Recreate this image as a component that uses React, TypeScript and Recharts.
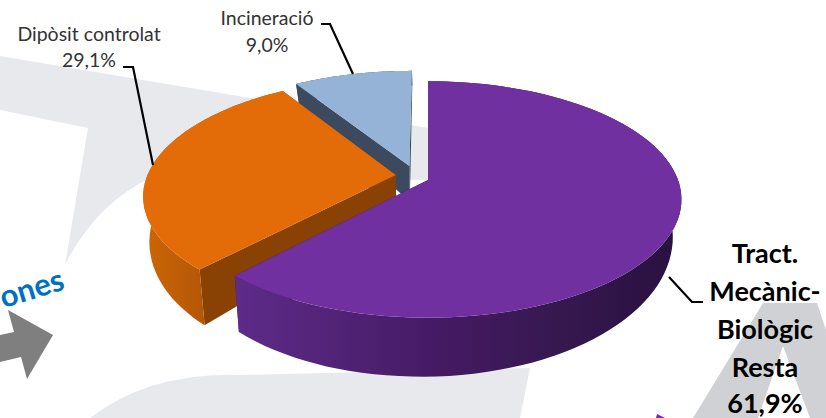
import React from "react";
import { PieChart, Pie } from "recharts";

// ---- data ----
const categories = ["Incineració", "Dipòsit controlat", "Tract. Mecànic-Biològic Resta"];
const shares = [9.0, 29.1, 61.9];
const categoryLines = [["Incineració"], ["Dipòsit controlat"], ["Tract.", "Mecànic-", "Biològic", "Resta"]];
const fragmentText = "ones";

const pieData = categories.map((name, i) => ({ name, value: shares[i] }));

// ---- styling / projection ----
const W = 826;
const H = 418;
const CX = 428;
const CY = 180;
const R = 250;
const K = 0.1646;
const Y_SCALE = 0.46;

const topColors = ["#95b3d7", "#e36c09", "#7030a0"];
const sideColors = ["#3b4a5f", "#8a4204", "#3a1a55"];
const explode: [number, number][] = [[-0.076, 0.125], [-0.13, 0.043], [0, 0]];
const wallStops: [string, string][][] = [
  [["0", "#3b4a5f"], ["1", "#3b4a5f"]],
  [["0", "#cc6706"], ["1", "#b35607"]],
  [["0", "#5d2b88"], ["0.45", "#451a64"], ["0.72", "#36184f"], ["1", "#28113f"]],
];
const wallRange: [number, number][] = [[290, 410], [145, 205], [240, 680]];

function project(cx: number, cy: number, r: number, u: number, v: number) {
  const w = 1 + K * v;
  return { x: cx + (r * u) / w, y: cy - (r * Y_SCALE * v) / w };
}
function lower(cx: number, p: { x: number; y: number }, u: number, v: number) {
  const shrink = u < 0 ? 0.978 : 0.966;
  return { x: cx + (p.x - cx) * shrink, y: p.y + 38 - 21 * v - 4 * u };
}
const toPath = (pts: { x: number; y: number }[]) =>
  "M" + pts.map((p) => `${p.x.toFixed(1)} ${p.y.toFixed(1)}`).join("L") + "Z";

function Slice3D(props: any) {
  const { cx, cy, outerRadius, startAngle, endAngle, name } = props;
  const idx = categories.indexOf(name);
  const [du, dv] = explode[idx];
  const steps = 90;
  const rim: { x: number; y: number; u: number; v: number }[] = [];
  for (let s = 0; s <= steps; s++) {
    const a = ((startAngle + ((endAngle - startAngle) * s) / steps) * Math.PI) / 180;
    const u = Math.cos(a) + du;
    const v = Math.sin(a) + dv;
    rim.push({ ...project(cx, cy, outerRadius, u, v), u, v });
  }
  const apex = project(cx, cy, outerRadius, du, dv);
  const apexLow = lower(cx, apex, du, dv);
  const rimLow = rim.map((p) => lower(cx, p, p.u, p.v));
  const gid = `wall-${idx}`;
  const [x1, x2] = wallRange[idx];
  const first = rim[0];
  const last = rim[steps];
  return (
    <g>
      <defs>
        <linearGradient id={gid} gradientUnits="userSpaceOnUse" x1={x1} x2={x2} y1={0} y2={0}>
          {wallStops[idx].map(([o, c]) => (
            <stop key={o} offset={o} stopColor={c} />
          ))}
        </linearGradient>
      </defs>
      <path d={toPath([apex, first, rimLow[0], apexLow])} fill={sideColors[idx]} />
      <path d={toPath([apex, last, rimLow[steps], apexLow])} fill={sideColors[idx]} />
      <path d={toPath([...rim, ...rimLow.slice().reverse()])} fill={`url(#${gid})`} />
      <path d={toPath([apex, ...rim])} fill={topColors[idx]} />
    </g>
  );
}

const fmt = (v: number) => v.toFixed(1).replace(".", ",") + "%";

const LIGHT_FONT = "Lato, 'Open Sans', sans-serif";
const leaders = [
  "M321 24L330 24L353 74",
  "M123 67L133 67L153 165",
  "M669 277L692 302L703 302",
];

function SliceLabel(props: any) {
  const idx = categories.indexOf(props.name);
  const lines = categoryLines[idx];
  const value = fmt(shares[idx]);
  const leader = <path d={leaders[idx]} fill="none" stroke="#000" strokeWidth={2.2} />;
  if (idx === 2) {
    const ys = [263, 301, 339, 377];
    return (
      <g>
        {leader}
        <g fontFamily={LIGHT_FONT} fontWeight={700} fontSize={27} fill="#000" textAnchor="middle">
          {lines.map((l, i) => (
            <text key={l} x={765} y={ys[i]}>{l}</text>
          ))}
          <text x={765} y={413}>{value}</text>
        </g>
      </g>
    );
  }
  const pos = idx === 0 ? { x: 267, a: 25, b: 52 } : { x: 89, a: 41, b: 67 };
  return (
    <g>
      {leader}
      <g fontFamily={LIGHT_FONT} fontSize={19.5} fill="#333" textAnchor="middle">
        <text x={pos.x} y={pos.a}>{lines[0]}</text>
        <text x={pos.x} y={pos.b}>{value}</text>
      </g>
    </g>
  );
}

function Backdrop() {
  return (
    <svg width={W} height={H} style={{ position: "absolute", left: 0, top: 0 }}>
      <path d="M0 56L440 130L440 180L150 178Q95 205 65 265L88 128L0 110Z" fill="#e8e9ed" />
      <path d="M90 418Q150 372 240 375L530 368L520 418Z" fill="#e8e9ed" />
      <path d="M693 418L763 303L817 303L826 330L826 418L810 418L783 346L758 418Z" fill="#d0d1d4" />
      <path d="M0 335L14 332L8 310L53 335L27 379L21 357L0 362Z" fill="#7f7f7f" />
      <path d="M656 418L657 414L665 418Z" fill="#7030a0" />
      <text
        x={66}
        y={289}
        transform="rotate(-17 66 289)"
        textAnchor="end"
        fontFamily={LIGHT_FONT}
        fontWeight={700}
        fontSize={31}
        fill="#0070c0"
      >
        {fragmentText}
      </text>
    </svg>
  );
}

export default function App() {
  return (
    <div style={{ position: "absolute", left: 0, top: 0, width: W, height: H, overflow: "hidden", background: "#fff" }}>
      <Backdrop />
      <div style={{ position: "absolute", left: 0, top: 0 }}>
        <PieChart width={W} height={H} margin={{ top: 0, right: 0, bottom: 0, left: 0 }}>
          <Pie
            data={pieData}
            dataKey="value"
            nameKey="name"
            cx={CX}
            cy={CY}
            innerRadius={0}
            outerRadius={R}
            startAngle={90}
            endAngle={450}
            paddingAngle={0}
            stroke="none"
            isAnimationActive={false}
            shape={Slice3D}
            label={SliceLabel}
            labelLine={false}
          />
        </PieChart>
      </div>
    </div>
  );
}
